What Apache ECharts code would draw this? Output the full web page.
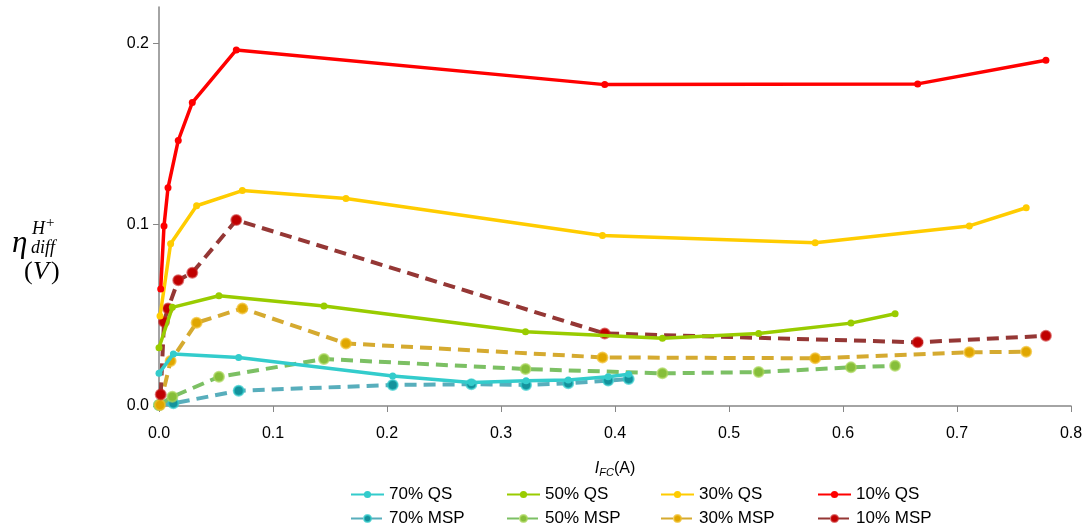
<!DOCTYPE html>
<html>
<head>
<meta charset="utf-8">
<script src="https://cdn.jsdelivr.net/npm/echarts@6/dist/echarts.min.js"></script>
<style>html,body{margin:0;padding:0;background:#fff;}#c{width:1086px;height:532px;}</style>
</head>
<body>
<div id="c"></div>
<script>
// Data
const x10 = [0.0015, 0.0044, 0.0079, 0.0169, 0.0292, 0.0678, 0.391, 0.6655, 0.778];
const qs10 = [0.0645, 0.0993, 0.1203, 0.1464, 0.1673, 0.1963, 0.1772, 0.1776, 0.1906];
const msp10 = [0.0064, 0.0465, 0.0538, 0.0694, 0.0735, 0.1025, 0.0400, 0.0351, 0.0387];

const x30 = [0.0009, 0.0102, 0.033, 0.0731, 0.164, 0.389, 0.5756, 0.7108, 0.7607];
const qs30 = [0.0496, 0.0894, 0.1104, 0.1188, 0.1144, 0.094, 0.090, 0.0993, 0.1093];
const msp30 = [0.0005, 0.0248, 0.0459, 0.0538, 0.0345, 0.0268, 0.0263, 0.0296, 0.0299];

const x50 = [0, 0.0117, 0.0526, 0.1447, 0.3215, 0.4416, 0.526, 0.607, 0.6457];
const qs50 = [0.0321, 0.0544, 0.0608, 0.0551, 0.0409, 0.0373, 0.040, 0.0457, 0.0509];
const msp50 = [0.0005, 0.0051, 0.0161, 0.0259, 0.0204, 0.018, 0.0187, 0.0213, 0.0222];

const x70 = [0, 0.0126, 0.0699, 0.205, 0.274, 0.322, 0.359, 0.394, 0.412];
const qs70 = [0.018, 0.0287, 0.0268, 0.0165, 0.013, 0.0139, 0.0143, 0.0161, 0.0175];
const msp70 = [0.0005, 0.0015, 0.0084, 0.0116, 0.012, 0.0116, 0.0125, 0.014, 0.0149];

const seriesNames = ['70% QS', '50% QS', '30% QS', '10% QS', '70% MSP', '50% MSP', '30% MSP', '10% MSP'];
const yTicks = [0, 0.1, 0.2];

function pairs(xs, ys) { return xs.map((x, i) => [x, ys[i]]); }

const FONT = "'Liberation Sans', Arial, sans-serif";

function qsSeries(name, xs, ys, color) {
  return {
    name, type: 'line', data: pairs(xs, ys), symbol: 'circle', symbolSize: 7,
    lineStyle: { color, width: 3.5 }, itemStyle: { color }, z: 3
  };
}
function mspSeries(name, xs, ys, lineColor, dotColor, edgeColor) {
  return {
    name, type: 'line', data: pairs(xs, ys), symbol: 'circle', symbolSize: 10,
    lineStyle: { color: lineColor, width: 4, type: [12, 7] },
    itemStyle: { color: dotColor, borderColor: edgeColor, borderWidth: 2 }, z: 2
  };
}

const series = [
  mspSeries('70% MSP', x70, msp70, '#58AEBC', '#14929C', 'rgba(51,204,204,0.7)'),
  mspSeries('50% MSP', x50, msp50, '#7CC064', '#86BE3A', 'rgba(170,214,90,0.7)'),
  mspSeries('30% MSP', x30, msp30, '#D5AA30', '#E0A600', 'rgba(240,190,40,0.7)'),
  mspSeries('10% MSP', x10, msp10, '#953735', '#C00000', 'rgba(200,30,30,0.6)'),
  qsSeries('70% QS', x70, qs70, '#33CCCC'),
  qsSeries('50% QS', x50, qs50, '#99CC00'),
  qsSeries('30% QS', x30, qs30, '#FFCC00'),
  qsSeries('10% QS', x10, qs10, '#FF0000')
];

const legendLefts = [350, 506, 660, 817];
const legends = seriesNames.map((n, i) => ({
  data: [n], left: legendLefts[i % 4], top: i < 4 ? 486 : 510, padding: 0,
  itemWidth: 33, itemHeight: 9, selectedMode: false,
  textStyle: { fontFamily: FONT, fontSize: 17, color: '#000' }
}));

const chart = echarts.init(document.getElementById('c'), null, { renderer: 'canvas' });
chart.setOption({
  animation: false,
  backgroundColor: '#fff',
  grid: { left: 159, right: 15, top: 7, bottom: 126, containLabel: false },
  legend: legends,
  xAxis: {
    type: 'value', min: 0, max: 0.8, interval: 0.1,
    name: '{i|I}{s|FC}{n|(A)}', nameLocation: 'middle', nameGap: 53,
    nameTextStyle: {
      rich: {
        i: { fontFamily: FONT, fontSize: 16, fontStyle: 'italic', color: '#000' },
        s: { fontFamily: FONT, fontSize: 11, fontStyle: 'italic', color: '#000', verticalAlign: 'bottom', padding: [8, 0, 0, 0] },
        n: { fontFamily: FONT, fontSize: 16, color: '#000' }
      }
    },
    axisLine: { lineStyle: { color: '#868686', width: 1.5 } },
    axisTick: { show: true, length: 6, lineStyle: { color: '#868686' } },
    axisLabel: { fontFamily: FONT, fontSize: 16, color: '#000', margin: 20, formatter: v => v.toFixed(1) },
    splitLine: { show: false }
  },
  yAxis: {
    type: 'value', min: 0, max: 0.22, interval: 0.1,
    axisLine: { show: true, lineStyle: { color: '#868686', width: 1.5 } },
    axisTick: { show: true, length: 6, lineStyle: { color: '#868686' }, customValues: yTicks },
    axisLabel: { fontFamily: FONT, fontSize: 16, color: '#000', margin: 10, customValues: yTicks, formatter: v => v.toFixed(1) },
    splitLine: { show: false }
  },
  graphic: [
    { type: 'text', left: 12, top: 228, style: { text: 'η', font: "italic 31px 'Liberation Serif', serif", fill: '#000' } },
    { type: 'text', left: 32, top: 220, style: { text: 'H', font: "italic 18px 'Liberation Serif', serif", fill: '#000' } },
    { type: 'text', left: 46, top: 216, style: { text: '+', font: "15px 'Liberation Serif', serif", fill: '#000' } },
    { type: 'text', left: 31, top: 239, style: { text: 'diff', font: "italic 18px 'Liberation Serif', serif", fill: '#000' } },
    { type: 'text', left: 24, top: 259, style: { text: '(', font: "26px 'Liberation Serif', serif", fill: '#000' } },
    { type: 'text', left: 33, top: 259, style: { text: 'V', font: "italic 26px 'Liberation Serif', serif", fill: '#000' } },
    { type: 'text', left: 51, top: 259, style: { text: ')', font: "26px 'Liberation Serif', serif", fill: '#000' } }
  ],
  series
});
</script>
</body>
</html>
